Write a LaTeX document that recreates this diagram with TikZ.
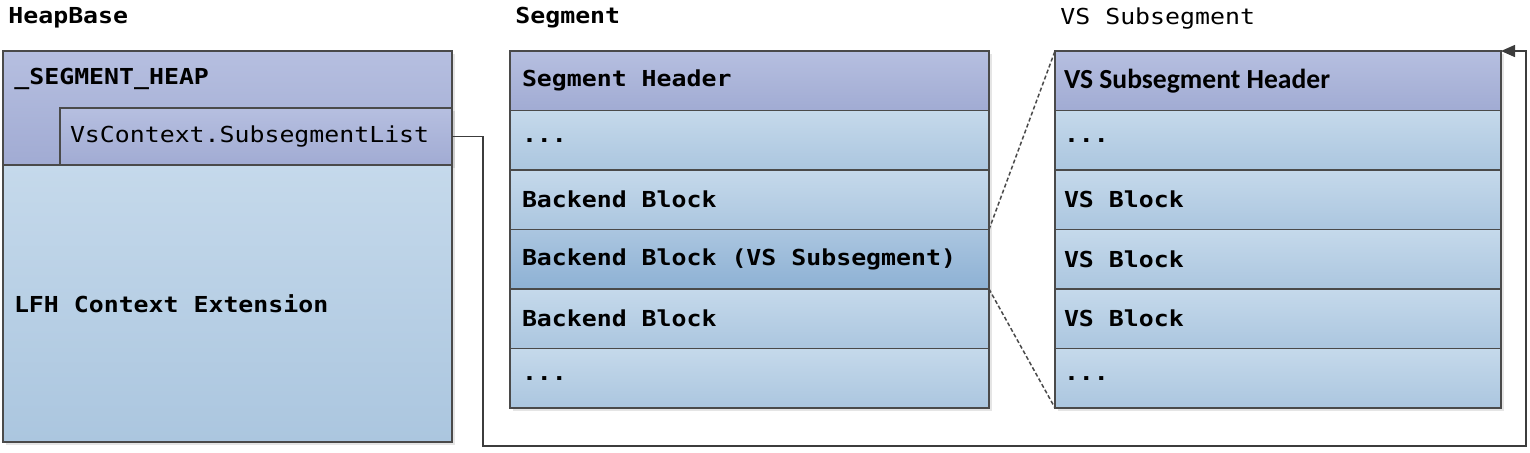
\documentclass[tikz,border=0pt]{standalone}
\usepackage{fontspec}
\setmonofont{DejaVu Sans Mono}[FakeStretch=1.13]
\newfontfamily\hdrfont{Carlito}
\usetikzlibrary{arrows.meta,positioning,shadows}

\definecolor{hdrtop}{HTML}{B6BFE0}
\definecolor{hdrbot}{HTML}{A1ABD3}
\definecolor{rowtop}{HTML}{C5D9EB}
\definecolor{rowbot}{HTML}{ABC6DF}
\definecolor{seltop}{HTML}{ABC6E0}
\definecolor{selbot}{HTML}{8DB1D4}
\definecolor{edge}{HTML}{4A4A4A}
\definecolor{linkc}{HTML}{3C3C3C}

\tikzset{
  cell/.style={draw=edge,line width=0.9pt,outer sep=0pt,inner ysep=0pt,
    minimum height=29.75pt,align=flush left,top color=rowtop,bottom color=rowbot,
    drop shadow={shadow xshift=1.5pt,shadow yshift=-1.5pt,fill=black,opacity=0.10}},
  hdr/.style={top color=hdrtop,bottom color=hdrbot},
  sel/.style={top color=seltop,bottom color=selbot},
  segcell/.style={cell,inner xsep=6pt,text width=227.5pt},
  vscell/.style={cell,inner xsep=4.5pt,text width=214pt},
  title/.style={anchor=west,inner sep=0pt},
  link/.style={draw=linkc,line width=0.75pt},
  zoomline/.style={draw=edge,line width=0.75pt,dash pattern=on 2pt off 1.2pt}
}

\begin{document}
\begin{tikzpicture}[>={Triangle[length=7pt,width=6pt]},x=0.5pt,y=-0.5pt,
  font=\ttfamily\bfseries\fontsize{11}{13}\selectfont]
\useasboundingbox (0,0) rectangle (1530,452);

% titles
\node[title] (heapbase) at (8,18) {HeapBase};
\node[title] (segtitle) at (515,18) {Segment};
\node[title,font=\ttfamily\mdseries\fontsize{11}{13}\selectfont] (vstitle) at (1060,18) {VS Subsegment};

% HeapBase
\node[cell,hdr,anchor=north west,minimum width=224.5pt,minimum height=57pt] (heap) at (3,51) {};
\node[title] (heapname) at ([xshift=5.5pt,yshift=-14pt]heap.north west) {\_SEGMENT\_HEAP};
\node[cell,hdr,anchor=south east,inner xsep=5pt,text width=186pt,minimum height=28.5pt]
  (sublist) at (heap.south east) {\mdseries VsContext.SubsegmentList};
\node[cell,below=0pt of heap,inner xsep=5.5pt,text width=213.5pt,minimum height=138.5pt]
  (lfh) {LFH Context Extension};

% Segment
\node[segcell,hdr,anchor=north west] (seg1) at (510,51) {Segment Header};
\node[segcell,below=0pt of seg1] (seg2) {...};
\node[segcell,below=0pt of seg2] (seg3) {Backend Block};
\node[segcell,sel,below=0pt of seg3] (seg4) {Backend Block (VS Subsegment)};
\node[segcell,below=0pt of seg4] (seg5) {Backend Block};
\node[segcell,below=0pt of seg5] (seg6) {...};

% VS Subsegment
\node[vscell,hdr,anchor=north west,font=\hdrfont\bfseries\fontsize{13.8}{15}\selectfont]
  (vs1) at (1055,51) {VS Subsegment Header};
\node[vscell,below=0pt of vs1] (vs2) {...};
\node[vscell,below=0pt of vs2] (vs3) {VS Block};
\node[vscell,below=0pt of vs3] (vs4) {VS Block};
\node[vscell,below=0pt of vs4] (vs5) {VS Block};
\node[vscell,below=0pt of vs5] (vs6) {...};

% zoom lines
\draw[zoomline] (seg4.north east) -- (vs1.north west);
\draw[zoomline] (seg4.south east) -- (vs6.south west);

% list link
\coordinate (downleft) at (483,446);
\coordinate (downright) at (1526,446);
\draw[link,->] (sublist.east) -| (downleft) -- (downright) |- (vs1.north east);
\end{tikzpicture}
\end{document}
